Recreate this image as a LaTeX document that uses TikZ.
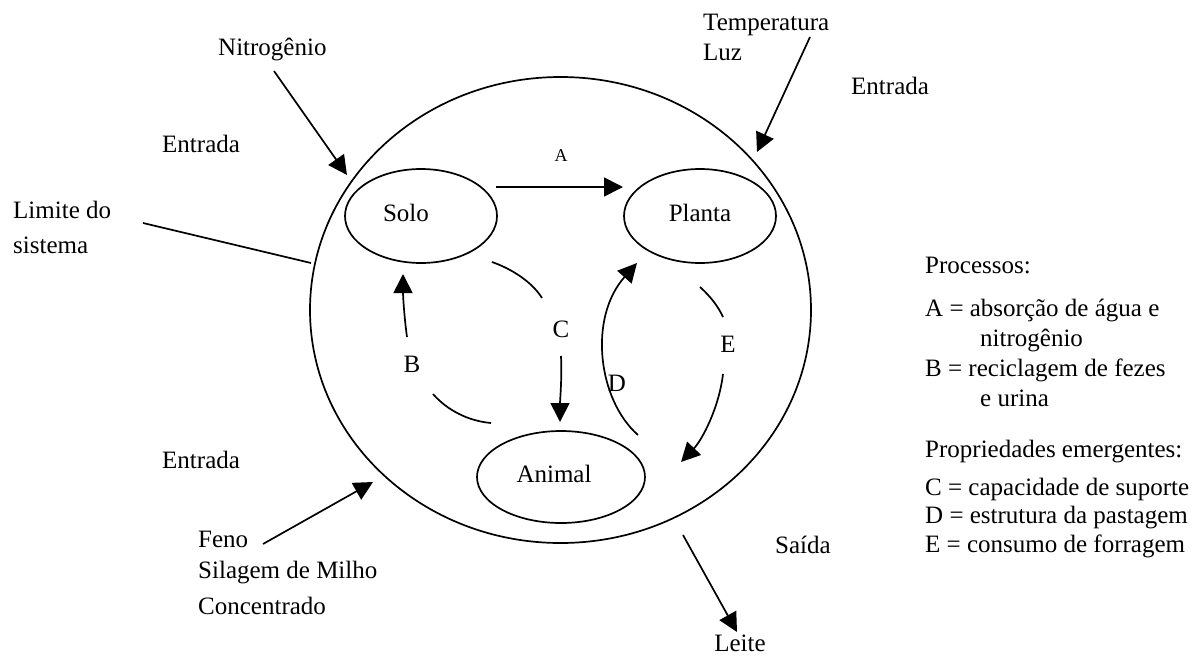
\documentclass[tikz,border=0pt]{standalone}
\usepackage{fontspec}
\setmainfont{Liberation Serif}
\usetikzlibrary{shapes.geometric,arrows.meta}
\begin{document}
\begin{tikzpicture}[x=1pt,y=-1pt,
  every node/.style={font=\fontsize{25}{30}\selectfont, inner sep=0pt, text height=17pt, text depth=6pt},
  lbl/.style={anchor=west},
  box/.style={draw, ellipse, line width=1.7pt, inner sep=0pt},
  ln/.style={line width=1.7pt},
  arr/.style={line width=1.7pt, -{Triangle[length=19pt,width=19pt]}}]
\useasboundingbox (0,0) rectangle (1202,659);
% system boundary and compartments
\node[box, minimum width=501pt, minimum height=466pt] (sys) at (560.5,310) {};
\node[box, minimum width=152pt, minimum height=94pt] (solo) at (421,216) {};
\node[box, minimum width=152pt, minimum height=94pt] (planta) at (700,216) {};
\node[box, minimum width=168pt, minimum height=92pt] (animal) at (561,477) {};
\node (tsolo) at (406,216) {Solo};
\node (tplanta) at (700,216) {Planta};
\node (tanimal) at (554,477) {Animal};
% outside labels
\node[lbl] (nitro) at (218,50) {Nitrogênio};
\node[lbl] (ent1) at (162,147) {Entrada};
\node[lbl] (lim1) at (13,213) {Limite do};
\node[lbl] (lim2) at (13,248) {sistema};
\node[lbl] (temp) at (703,25) {Temperatura};
\node[lbl] (luz) at (703,55) {Luz};
\node[lbl] (ent2) at (851,89) {Entrada};
\node[lbl] (ent3) at (162,463) {Entrada};
\node[lbl] (feno) at (198,542) {Feno};
\node[lbl] (sil) at (198,573) {Silagem de Milho};
\node[lbl] (conc) at (198,609) {Concentrado};
\node[lbl] (saida) at (775,548) {Saída};
\node (leite) at (740,646) {Leite};
% process labels
\node (la) at (561,156) {\fontsize{18}{22}\selectfont A};
\node (lb) at (412,367) {B};
\node (lc) at (561,332) {C};
\node (ld) at (617,386) {D};
\node (le) at (728,347) {E};
% legend
\node[lbl] (p0) at (925,268) {Processos:};
\node[lbl] (p1) at (925,311) {A = absorção de água e};
\node[lbl] (p2) at (980,341) {nitrogênio};
\node[lbl] (p3) at (925,371) {B = reciclagem de fezes};
\node[lbl] (p4) at (980,401) {e urina};
\node[lbl] (p5) at (925,452) {Propriedades emergentes:};
\node[lbl] (p6) at (925,490) {C = capacidade de suporte};
\node[lbl] (p7) at (925,518) {D = estrutura da pastagem};
\node[lbl] (p8) at (925,547) {E = consumo de forragem};
% connector end points
\coordinate (n1) at (274,71);  \coordinate (n2) at (347,175);
\coordinate (t1) at (810,37);  \coordinate (t2) at (757,152);
\coordinate (f1) at (263,544); \coordinate (f2) at (373,482);
\coordinate (l1) at (683,535); \coordinate (l2) at (737,632);
\coordinate (m1) at (143,223); \coordinate (m2) at (311,263);
\coordinate (a1) at (496,187); \coordinate (a2) at (623,187);
\coordinate (c1) at (492,262); \coordinate (c2) at (542,298);
\coordinate (c3) at (561,356); \coordinate (c4) at (560,422);
\coordinate (b1) at (407,337); \coordinate (b2) at (403,274);
\coordinate (b3) at (433,394); \coordinate (b4) at (491,423);
\coordinate (d1) at (638,435); \coordinate (d2) at (637,263);
\coordinate (e1) at (700,287); \coordinate (e2) at (723,317);
\coordinate (e3) at (723,374); \coordinate (e4) at (681,462);
% connectors
\draw[arr] (n1) -- (n2);
\draw[arr] (t1) -- (t2);
\draw[arr] (f1) -- (f2);
\draw[arr] (l1) -- (l2);
\draw[ln] (m1) -- (m2);
\draw[arr] (a1) -- (a2);
\draw[ln] (c1) .. controls (512,269) and (532,282) .. (c2);
\draw[arr] (c3) .. controls (562,380) and (560,400) .. (c4);
\draw[arr] (b1) .. controls (404,315) and (403,295) .. (b2);
\draw[ln] (b3) .. controls (447,410) and (468,421) .. (b4);
\draw[arr] (d1) .. controls (598,400) and (588,318) .. (d2);
\draw[ln] (e1) .. controls (710,296) and (718,306) .. (e2);
\draw[arr] (e3) .. controls (719,408) and (702,440) .. (e4);
\end{tikzpicture}
\end{document}
